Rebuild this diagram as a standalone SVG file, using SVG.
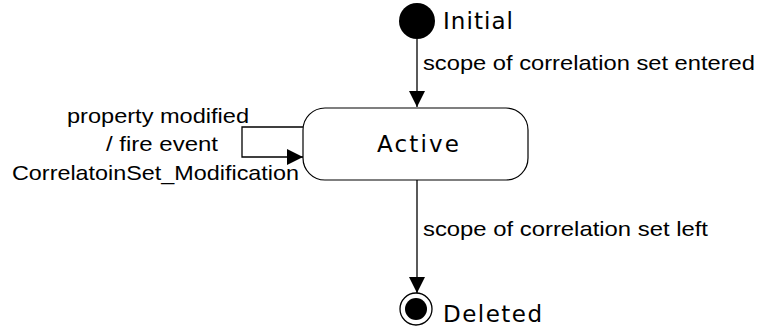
<svg xmlns="http://www.w3.org/2000/svg" width="760" height="327" viewBox="0 0 760 327">
<style>
.lbl{font-family:"Liberation Sans",Arial,sans-serif;font-size:21px;fill:#000}
.st{font-family:"DejaVu Sans",Verdana,sans-serif;font-size:23px;fill:#000}
.ln{stroke:#000;stroke-width:1.3;fill:none}
</style>
<defs>
<marker id="ah" markerWidth="16" markerHeight="16" refX="16" refY="8" orient="auto" markerUnits="userSpaceOnUse">
<path d="M0,0 L16,8 L0,16 Z" fill="#000"/>
</marker>
</defs>
<g id="initial">
<circle cx="417" cy="21" r="18" fill="#000"/>
<text class="st" x="443" y="29" textLength="70" lengthAdjust="spacing">Initial</text>
</g>
<g id="active">
<rect x="303" y="108" width="225" height="72" rx="22" ry="22" fill="#fff" stroke="#000" stroke-width="1.2"/>
<text class="st" x="377" y="152" textLength="82" lengthAdjust="spacing">Active</text>
</g>
<g id="deleted">
<circle cx="416" cy="309" r="16" fill="#fff" stroke="#000" stroke-width="1.3"/>
<circle cx="416" cy="309" r="11" fill="#000"/>
<text class="st" x="443" y="322" textLength="99" lengthAdjust="spacing">Deleted</text>
</g>
<g id="connectors">
<path class="ln" d="M417,39 V107" marker-end="url(#ah)"/>
<text class="lbl" x="423" y="70" textLength="332" lengthAdjust="spacingAndGlyphs">scope of correlation set entered</text>
<path class="ln" d="M303,127 H242 V157 H303" marker-end="url(#ah)"/>
<text class="lbl" x="67" y="123" textLength="182" lengthAdjust="spacingAndGlyphs">property modified</text>
<text class="lbl" x="106" y="151" textLength="112" lengthAdjust="spacingAndGlyphs">/ fire event</text>
<text class="lbl" x="12" y="180" textLength="287" lengthAdjust="spacingAndGlyphs">CorrelatoinSet_Modification</text>
<path class="ln" d="M417,180 V293" marker-end="url(#ah)"/>
<text class="lbl" x="423" y="236" textLength="285" lengthAdjust="spacingAndGlyphs">scope of correlation set left</text>
</g>
</svg>
